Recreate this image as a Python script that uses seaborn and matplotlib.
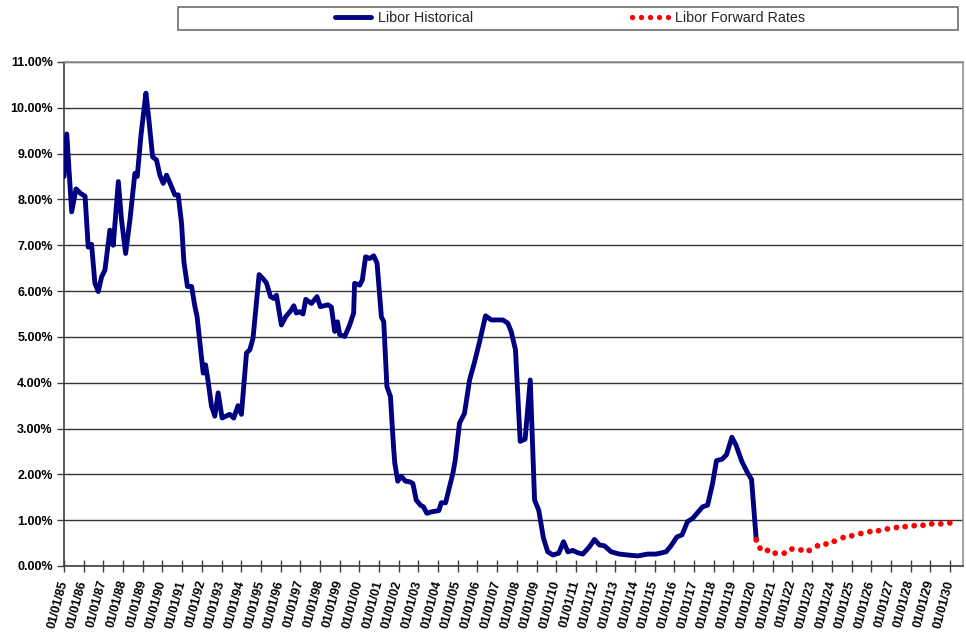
import matplotlib
matplotlib.use("Agg")
import matplotlib.pyplot as plt
from matplotlib.lines import Line2D
from matplotlib.patches import Rectangle
import seaborn as sns
import pandas as pd

# ---- data (decimal year, percent) ----
hist_year = [1985.00, 1985.14, 1985.39, 1985.61, 1985.85, 1986.07, 1986.23, 1986.40, 1986.57, 1986.74,
             1986.91, 1987.08, 1987.33, 1987.50, 1987.76, 1987.92, 1988.13, 1988.35, 1988.60, 1988.72,
             1988.91, 1989.16, 1989.28, 1989.50, 1989.70, 1989.87, 1990.04, 1990.21, 1990.46, 1990.63,
             1990.80, 1990.97, 1991.09, 1991.27, 1991.48, 1991.65, 1991.76, 1992.07, 1992.19, 1992.32,
             1992.49, 1992.66, 1992.83, 1993.03, 1993.42, 1993.62, 1993.84, 1994.01, 1994.27, 1994.44,
             1994.60, 1994.91, 1995.11, 1995.28, 1995.49, 1995.65, 1995.79, 1996.04, 1996.26, 1996.55,
             1996.67, 1996.80, 1996.97, 1997.14, 1997.28, 1997.57, 1997.85, 1998.02, 1998.41, 1998.58,
             1998.75, 1998.89, 1999.00, 1999.26, 1999.51, 1999.71, 1999.76, 2000.02, 2000.15, 2000.32,
             2000.52, 2000.73, 2000.90, 2001.12, 2001.24, 2001.40, 2001.58, 2001.74, 2001.80, 2001.95,
             2002.12, 2002.35, 2002.55, 2002.72, 2002.89, 2003.10, 2003.26, 2003.43, 2003.65, 2004.04,
             2004.16, 2004.38, 2004.58, 2004.75, 2004.87, 2005.09, 2005.34, 2005.60, 2005.85, 2006.11,
             2006.41, 2006.70, 2007.03, 2007.29, 2007.54, 2007.71, 2007.93, 2008.17, 2008.42, 2008.68,
             2008.90, 2009.11, 2009.35, 2009.57, 2009.83, 2010.13, 2010.37, 2010.59, 2010.84, 2011.09,
             2011.35, 2011.69, 2011.94, 2012.19, 2012.45, 2012.79, 2013.21, 2013.63, 2014.14, 2014.64,
             2015.07, 2015.58, 2015.83, 2016.12, 2016.39, 2016.67, 2016.93, 2017.43, 2017.69, 2017.94,
             2018.14, 2018.42, 2018.65, 2018.92, 2019.13, 2019.43, 2019.72, 2019.92, 2020.16]
hist_rate = [8.50, 9.43, 7.73, 8.23, 8.13, 8.07, 6.96, 7.02, 6.17, 5.99,
             6.31, 6.46, 7.33, 7.00, 8.39, 7.56, 6.82, 7.56, 8.57, 8.50,
             9.40, 10.32, 9.87, 8.93, 8.86, 8.53, 8.35, 8.53, 8.28, 8.10,
             8.10, 7.48, 6.64, 6.10, 6.10, 5.66, 5.44, 4.21, 4.39, 4.03,
             3.49, 3.27, 3.78, 3.23, 3.31, 3.23, 3.50, 3.31, 4.65, 4.72,
             4.97, 6.36, 6.27, 6.18, 5.88, 5.84, 5.91, 5.26, 5.44, 5.59,
             5.68, 5.52, 5.55, 5.50, 5.82, 5.73, 5.88, 5.66, 5.70, 5.65,
             5.12, 5.33, 5.05, 5.01, 5.26, 5.52, 6.17, 6.13, 6.24, 6.75,
             6.71, 6.77, 6.61, 5.44, 5.33, 3.92, 3.70, 2.58, 2.25, 1.85,
             1.96, 1.85, 1.84, 1.80, 1.44, 1.33, 1.29, 1.15, 1.18, 1.21,
             1.38, 1.38, 1.73, 2.02, 2.31, 3.12, 3.33, 4.06, 4.45, 4.90,
             5.46, 5.37, 5.37, 5.37, 5.30, 5.12, 4.72, 2.72, 2.77, 4.06,
             1.44, 1.22, 0.61, 0.31, 0.24, 0.28, 0.53, 0.31, 0.34, 0.29,
             0.26, 0.42, 0.58, 0.46, 0.44, 0.31, 0.26, 0.24, 0.22, 0.26,
             0.26, 0.31, 0.44, 0.63, 0.68, 0.97, 1.04, 1.29, 1.33, 1.80,
             2.30, 2.33, 2.43, 2.81, 2.64, 2.28, 2.03, 1.89, 0.57]

fwd_year = [2020.16, 2020.35, 2020.73, 2021.12, 2021.58, 2021.97, 2022.43, 2022.85, 2023.27, 2023.70,
            2024.12, 2024.57, 2025.01, 2025.47, 2025.93, 2026.37, 2026.82, 2027.28, 2027.72, 2028.18,
            2028.63, 2029.07, 2029.53, 2029.99]
fwd_rate = [0.57, 0.39, 0.34, 0.28, 0.28, 0.37, 0.35, 0.34, 0.44, 0.48,
            0.54, 0.62, 0.66, 0.71, 0.75, 0.77, 0.81, 0.84, 0.86, 0.88,
            0.89, 0.92, 0.92, 0.94]

x_tick_years = list(range(1985, 2031))
x_tick_labels = ["01/01/%02d" % (y % 100) for y in x_tick_years]
y_ticks = list(range(0, 12))
y_tick_labels = ["%.2f%%" % v for v in y_ticks]

series_names = ["Libor Historical", "Libor Forward Rates"]

hist_df = pd.DataFrame({"year": hist_year, "rate": hist_rate})
fwd_df = pd.DataFrame({"year": fwd_year, "rate": fwd_rate})

# ---- style ----
sns.set_theme(style="white")
plt.rcParams["font.family"] = ["Liberation Sans", "DejaVu Sans"]

fig = plt.figure(figsize=(9.66, 6.32), dpi=100)
ax = fig.add_axes([64 / 966, 66 / 632, (963 - 64) / 966, (566 - 62) / 632])

NAVY = "#000080"
RED = "#FF0000"

sns.lineplot(data=hist_df, x="year", y="rate", color=NAVY, linewidth=3.5, ax=ax,
             legend=False, zorder=3)
sns.scatterplot(data=fwd_df, x="year", y="rate", color=RED, s=17, edgecolor="none",
                linewidth=0, ax=ax, legend=False, zorder=4)

ax.set_xlim(1985, 2030.66)
ax.set_ylim(0, 11)
ax.set_xlabel("")
ax.set_ylabel("")

ax.set_yticks(y_ticks)
ax.set_yticklabels(y_tick_labels, fontsize=9, fontweight="bold", color="black")
ax.set_xticks(x_tick_years)
ax.set_xticklabels(x_tick_labels, fontsize=9, fontweight="bold", color="black",
                   rotation=75, rotation_mode="anchor", ha="right", va="center")

ax.tick_params(axis="y", which="major", direction="out", length=5, width=1,
               color="#404040", pad=3, left=True)
ax.tick_params(axis="x", which="major", direction="inout", length=9, width=1,
               color="#404040", pad=6, bottom=True)

ax.yaxis.grid(True, color="#333333", linewidth=1.0)
ax.xaxis.grid(False)
ax.set_axisbelow(True)

for side in ["left", "bottom"]:
    ax.spines[side].set_color("#404040")
    ax.spines[side].set_linewidth(1.2)
for side in ["top", "right"]:
    ax.spines[side].set_color("#909090")
    ax.spines[side].set_linewidth(1.2)

# ---- legend box ----
rect = Rectangle((178 / 966, 1 - 30 / 632), (958 - 178) / 966, 23 / 632,
                 transform=fig.transFigure, facecolor="white", edgecolor="#6e6e6e",
                 linewidth=1.2, zorder=1)
fig.add_artist(rect)

handles = [Line2D([], [], color=NAVY, linewidth=3.5),
           Line2D([], [], linestyle="none", marker="o", markersize=3.8,
                  markerfacecolor=RED, markeredgecolor="none")]
fig.legend(handles, series_names, loc="center", ncol=2, frameon=False,
           bbox_to_anchor=(568 / 966, 1 - 18.5 / 632), fontsize=10.3,
           handlelength=3.1, handletextpad=0.2, columnspacing=10.8, numpoints=5)

fig.savefig("out.png", dpi=100)
